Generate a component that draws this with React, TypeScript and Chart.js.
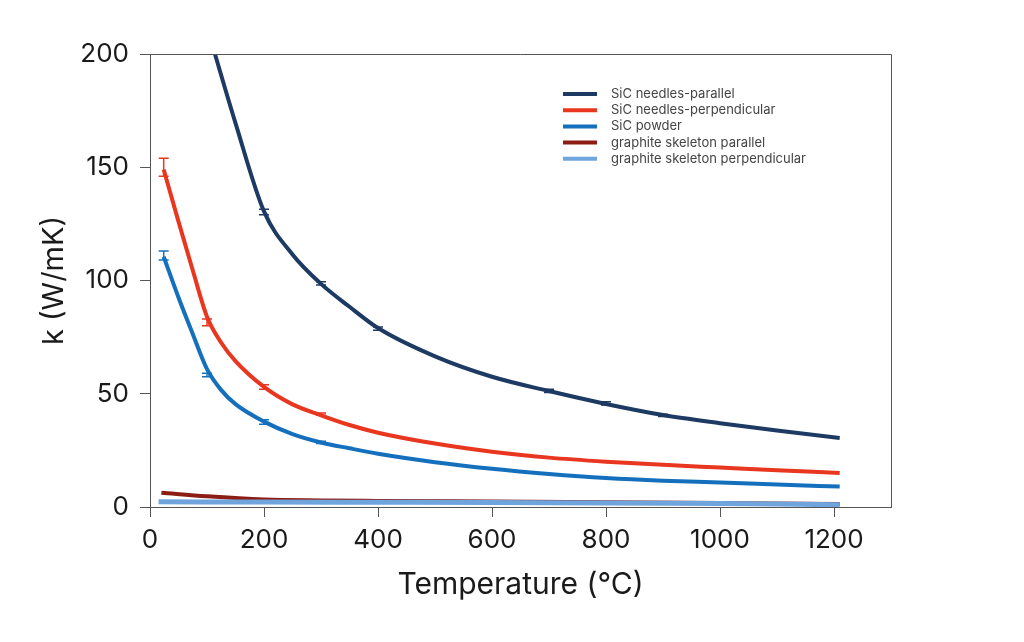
import React, { useEffect, useRef } from "react";
import { Chart, registerables } from "chart.js";

Chart.register(...registerables);

// temperatures (°C) and conductivity k (W/mK)
const needlesParT = [100, 150, 200, 250, 300, 350, 400, 500, 600, 700, 800, 900, 1000, 1100, 1210];
const needlesParK = [212, 169.5, 130.5, 111.5, 98.5, 88.4, 79, 66.5, 57.5, 51.2, 45.5, 40.6, 37, 33.8, 30.5];

const needlesPerpT = [24, 50, 75, 100, 125, 150, 200, 250, 300, 350, 400, 500, 600, 700, 800, 900, 1000, 1100, 1210];
const needlesPerpK = [149, 126, 104.5, 84, 72.5, 64.4, 53, 45.3, 40.5, 36.2, 32.8, 28, 24.4, 21.8, 20, 18.6, 17.4, 16.2, 15];

const powderT = [24, 50, 75, 100, 125, 150, 200, 250, 300, 350, 400, 500, 600, 700, 800, 900, 1000, 1100, 1210];
const powderK = [110.5, 92.5, 76.4, 60.9, 51.6, 45.4, 37.7, 32.2, 28.5, 25.9, 23.5, 19.8, 16.9, 14.6, 12.8, 11.6, 10.8, 9.9, 9];

const graphParT = [20, 100, 200, 300, 400, 600, 800, 1000, 1210];
const graphParK = [6.3, 4.7, 3.3, 2.9, 2.7, 2.4, 2.1, 1.8, 1.3];

const graphPerpT = [15, 200, 400, 600, 800, 1000, 1210];
const graphPerpK = [2.3, 2.2, 2.1, 2.0, 1.8, 1.5, 1.0];

// error bars: [T, low, high]
const needlesParErr = [[200, 129, 131.5], [300, 98, 99.5], [400, 78, 79.5], [700, 50.5, 52], [800, 45, 46.5], [900, 40, 41]];
const needlesPerpErr = [[24, 146, 154], [100, 80, 83], [200, 52, 54], [300, 40.5, 41.5]];
const powderErr = [[24, 109, 113], [100, 57.5, 59], [200, 36.5, 38.5], [300, 28, 29]];

const labels = [
  "SiC needles-parallel",
  "SiC needles-perpendicular",
  "SiC powder",
  "graphite skeleton parallel",
  "graphite skeleton perpendicular",
];
const colors = ["#1c3a62", "#e8361f", "#1470bd", "#8c1d12", "#6fa4dc"];

const xTicks = [0, 200, 400, 600, 800, 1000, 1200];
const yTicks = [0, 50, 100, 150, 200];

const toPoints = (t: number[], k: number[]) => t.map((x, i) => ({ x, y: k[i] }));

const errorBars = {
  id: "errorBars",
  afterDatasetsDraw(chart: any) {
    const { ctx, scales } = chart;
    const sets = [needlesParErr, needlesPerpErr, powderErr];
    ctx.save();
    ctx.beginPath();
    ctx.rect(chart.chartArea.left, chart.chartArea.top, chart.chartArea.width, chart.chartArea.height);
    ctx.clip();
    sets.forEach((errs, i) => {
      ctx.strokeStyle = colors[i];
      ctx.lineWidth = 1.5;
      errs.forEach(([t, lo, hi]) => {
        const x = scales.x.getPixelForValue(t);
        const y1 = scales.y.getPixelForValue(lo);
        const y2 = scales.y.getPixelForValue(hi);
        ctx.beginPath();
        ctx.moveTo(x, y1);
        ctx.lineTo(x, y2);
        ctx.moveTo(x - 5, y1);
        ctx.lineTo(x + 5, y1);
        ctx.moveTo(x - 5, y2);
        ctx.lineTo(x + 5, y2);
        ctx.stroke();
      });
    });
    ctx.restore();
  },
};

const frame = {
  id: "frame",
  afterDraw(chart: any) {
    const { ctx, chartArea } = chart;
    ctx.save();
    ctx.strokeStyle = "#555";
    ctx.lineWidth = 1;
    ctx.beginPath();
    ctx.moveTo(chartArea.left, chartArea.top + 0.5);
    ctx.lineTo(chartArea.right + 0.5, chartArea.top + 0.5);
    ctx.lineTo(chartArea.right + 0.5, chartArea.bottom);
    ctx.stroke();
    ctx.restore();
  },
};

const legendBox = {
  id: "legendBox",
  afterDraw(chart: any) {
    const { ctx } = chart;
    ctx.save();
    ctx.font = "13px Inter, sans-serif";
    ctx.textBaseline = "middle";
    labels.forEach((label, i) => {
      const y = 94 + i * 16.2;
      ctx.strokeStyle = colors[i];
      ctx.lineWidth = 4;
      ctx.beginPath();
      ctx.moveTo(563, y);
      ctx.lineTo(597, y);
      ctx.stroke();
      ctx.fillStyle = "#444";
      ctx.fillText(label, 611, y);
    });
    ctx.restore();
  },
};

const App: React.FC = () => {
  const chartRef = useRef<HTMLCanvasElement>(null);
  const chartInstance = useRef<Chart | null>(null);

  useEffect(() => {
    document.body.style.margin = "0";
    if (!chartRef.current) return;
    const series = [
      toPoints(needlesParT, needlesParK),
      toPoints(needlesPerpT, needlesPerpK),
      toPoints(powderT, powderK),
      toPoints(graphParT, graphParK),
      toPoints(graphPerpT, graphPerpK),
    ];
    chartInstance.current = new Chart(chartRef.current, {
      type: "line",
      data: {
        datasets: series.map((data, i) => ({
          label: labels[i],
          data,
          borderColor: colors[i],
          backgroundColor: colors[i],
          borderWidth: i === 4 ? 5 : 4,
          pointRadius: 0,
          cubicInterpolationMode: "monotone",
          order: 4 - i,
        })),
      },
      options: {
        animation: false,
        responsive: true,
        maintainAspectRatio: false,
        layout: { padding: { top: 54, right: 133, left: 0, bottom: 0 } },
        plugins: { legend: { display: false }, tooltip: { enabled: false } },
        scales: {
          x: {
            type: "linear",
            min: 0,
            max: 1300,
            afterFit: (s: any) => {
              s.height = 135;
            },
            afterBuildTicks: (s: any) => {
              s.ticks = xTicks.map((value) => ({ value }));
            },
            grid: { drawOnChartArea: false, tickLength: 10, color: "#555" },
            border: { color: "#555" },
            ticks: {
              padding: 8,
              color: "#1a1a1a",
              font: { family: "Inter", size: 26 },
              callback: (v: any) => String(v),
            },
            title: {
              display: true,
              text: "Temperature (°C)",
              color: "#1a1a1a",
              font: { family: "Inter", size: 30 },
              padding: { bottom: 39 },
            },
          },
          y: {
            type: "linear",
            min: 0,
            max: 200,
            afterFit: (s: any) => {
              s.width = 150;
            },
            afterBuildTicks: (s: any) => {
              s.ticks = yTicks.map((value) => ({ value }));
            },
            grid: { drawOnChartArea: false, tickLength: 10, color: "#555" },
            border: { color: "#555" },
            ticks: {
              padding: 11,
              color: "#1a1a1a",
              font: { family: "Inter", size: 26 },
              callback: (v: any) => String(v),
            },
            title: {
              display: true,
              text: "k (W/mK)",
              color: "#1a1a1a",
              font: { family: "Inter", size: 29 },
              padding: { top: 37 },
            },
          },
        },
      },
      plugins: [errorBars, frame, legendBox],
    });

    return () => {
      if (chartInstance.current) {
        chartInstance.current.destroy();
      }
    };
  }, []);

  return (
    <div style={{ position: "absolute", left: 0, top: 0, width: 1024, height: 642, background: "#fff" }}>
      <canvas ref={chartRef} />
    </div>
  );
};

export default App;
